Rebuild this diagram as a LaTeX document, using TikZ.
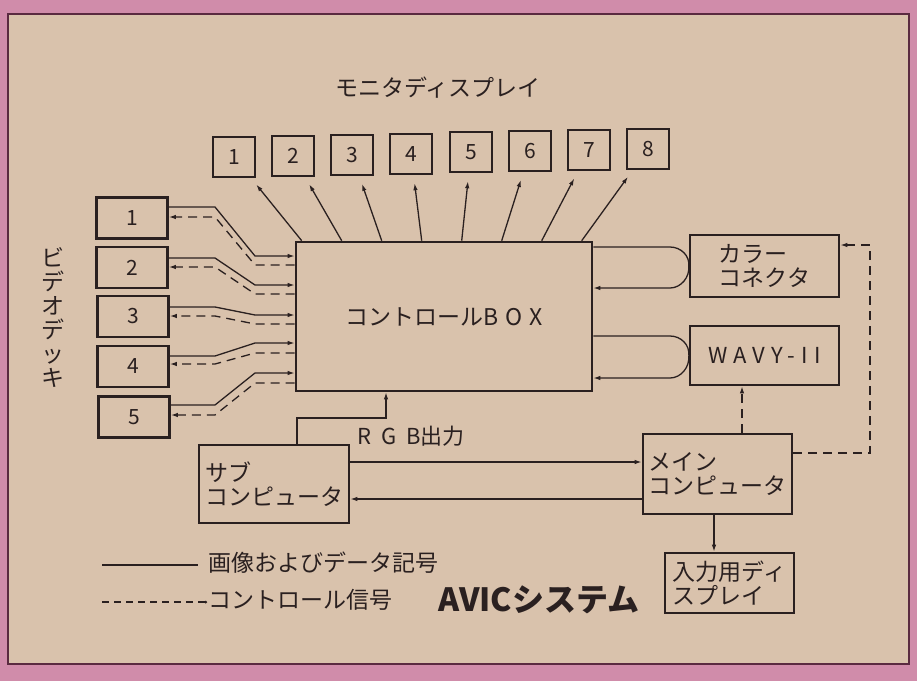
\documentclass[tikz,border=0pt]{standalone}
\usepackage{fontspec}
\setmainfont{Noto Sans CJK JP}
\usetikzlibrary{arrows.meta}
\definecolor{ink}{HTML}{2A2020}
\definecolor{paper}{HTML}{D9C2AC}
\definecolor{rim}{HTML}{D08CAA}
\definecolor{rimline}{HTML}{5A2A40}
\newcommand{\spread}[2]{{\addfontfeatures{LetterSpace=#1}#2}}
\begin{document}
\begin{tikzpicture}[
	x=1pt,y=-1pt,
	>={Latex[length=7pt,width=4.5pt]},
	box/.style={draw=ink,line width=2.6pt,fill=paper,inner sep=0pt,text=ink},
	txt/.style={font=\fontsize{23}{24.5}\selectfont,text=ink,inner sep=1pt},
	num/.style={font=\fontsize{21}{22}\selectfont},
	mon/.style={box,num,minimum width=42pt,minimum height=40pt},
	deck/.style={box,num,minimum width=71pt,minimum height=41pt},
	unit/.style={box,txt,align=left},
	sig/.style={draw=ink,line width=1.3pt},
	ctl/.style={draw=ink,line width=1.3pt,dash pattern=on 9pt off 6pt}
	]
	% paper and frame
	\fill[rim] (0,0) rectangle (917,681);
	\path[draw=rimline,line width=1.4pt,fill=paper] (8,14) rectangle (909,664);

	\node[txt] (montitle) at (438,88) {モニタディスプレイ};
	\node[mon] (m1) at (234,157) {1};
	\node[mon] (m2) at (293,156) {2};
	\node[mon] (m3) at (352,155) {3};
	\node[mon] (m4) at (411,154) {4};
	\node[mon] (m5) at (471,152) {5};
	\node[mon] (m6) at (530,151) {6};
	\node[mon] (m7) at (589,150) {7};
	\node[mon] (m8) at (648,149) {8};

	\node[box,txt,minimum width=296pt,minimum height=149pt] (ctrl) at (444,316.5) {コントロール\spread{30}{BOX}};

	\node[txt,align=center,font=\fontsize{23}{24}\selectfont] (decktitle) at (53,318) {ビ\\デ\\オ\\デ\\ッ\\キ};
	\node[deck] (v1) at (132,218) {1};
	\node[deck] (v2) at (132,267.5) {2};
	\node[deck] (v3) at (133,316.5) {3};
	\node[deck] (v4) at (133,366.5) {4};
	\node[deck] (v5) at (134,417) {5};

	\node[unit,minimum width=149pt,minimum height=62pt] (color) at (764.5,266) {カラー\\コネクタ};
	\node[box,txt,font=\fontsize{22}{24}\selectfont,minimum width=149pt,minimum height=59pt] (wavy) at (764.5,355.5) {\spread{28}{WAVY-II}};
	\node[unit,minimum width=150pt,minimum height=78pt] (sub) at (274,484) {サブ\\コンピュータ};
	\node[unit,minimum width=149pt,minimum height=80pt] (main) at (717.5,474) {メイン\\コンピュータ};
	\node[unit,minimum width=129pt,minimum height=60pt] (disp) at (729.5,583) {入力用ディ\\スプレイ};
	\node[txt,font=\fontsize{22}{24}\selectfont] (rgb) at (411,436) {\spread{45}{RGB}出力};

	% monitors
	\path[draw,sig,->,shorten >=8pt] ([xshift=7pt]ctrl.north west) -- (m1);
	\path[draw,sig,->,shorten >=8pt] ([xshift=47pt]ctrl.north west) -- (m2);
	\path[draw,sig,->,shorten >=8pt] ([xshift=87pt]ctrl.north west) -- (m3);
	\path[draw,sig,->,shorten >=8pt] ([xshift=127pt]ctrl.north west) -- (m4);
	\path[draw,sig,->,shorten >=8pt] ([xshift=167pt]ctrl.north west) -- (m5);
	\path[draw,sig,->,shorten >=8pt] ([xshift=207pt]ctrl.north west) -- (m6);
	\path[draw,sig,->,shorten >=8pt] ([xshift=247pt]ctrl.north west) -- (m7);
	\path[draw,sig,->,shorten >=8pt] ([xshift=287pt]ctrl.north west) -- (m8);

	% video decks
	\path[draw,sig,->] (v1.east |- 0,207) -- (215,207) -- (255,256) -- (ctrl.west |- 0,256);
	\path[draw,ctl,->] (ctrl.west |- 0,265) -- (255,265) -- (215,217) -- (v1.east |- 0,217);
	\path[draw,sig,->] (v2.east |- 0,258) -- (215,258) -- (255,285) -- (ctrl.west |- 0,285);
	\path[draw,ctl,->] (ctrl.west |- 0,294) -- (255,294) -- (215,267) -- (v2.east |- 0,267);
	\path[draw,sig,->] (v3.east |- 0,307) -- (215,307) -- (255,315) -- (ctrl.west |- 0,315);
	\path[draw,ctl,->] (ctrl.west |- 0,324) -- (255,324) -- (215,316) -- (v3.east |- 0,316);
	\path[draw,sig,->] (v4.east |- 0,356) -- (215,356) -- (255,343) -- (ctrl.west |- 0,343);
	\path[draw,ctl,->] (ctrl.west |- 0,353) -- (255,353) -- (215,364) -- (v4.east |- 0,364);
	\path[draw,sig,->] (v5.east |- 0,405) -- (215,405) -- (255,373) -- (ctrl.west |- 0,373);
	\path[draw,ctl,->] (ctrl.west |- 0,383) -- (255,383) -- (215,415) -- (v5.east |- 0,415);

	% color connector and WAVY-II loops
	\path[draw,sig] (ctrl.east |- 0,247) -- (670,247) .. controls (681,247) and (690,256) .. (color.west);
	\path[draw,sig,->] (color.west) .. controls (690,277) and (681,288) .. (670,288) -- (ctrl.east |- 0,288);
	\path[draw,sig] (ctrl.east |- 0,336) -- (670,336) .. controls (681,336) and (690,345) .. (wavy.west);
	\path[draw,sig,->] (wavy.west) .. controls (690,367) and (681,378) .. (670,378) -- (ctrl.east |- 0,378);

	% computers
	\path[draw,sig,->] (sub.north -| 297,0) -- (297,418) -- (386,418) -- (ctrl.south -| 386,0);
	\path[draw,sig,->] (sub.east |- 0,462) -- (main.west |- 0,462);
	\path[draw,sig,->] (main.west |- 0,499) -- (sub.east |- 0,499);
	\path[draw,sig,->] (main.south -| 714,0) -- (disp.north -| 714,0);
	\path[draw,ctl,->] (main.north -| 742,0) -- (wavy.south -| 742,0);
	\path[draw,ctl,->] (main.east |- 0,453) -- (870,453) -- (870,245) -- (color.east |- 0,245);

	% legend
	\coordinate (lgsig) at (102,565);
	\coordinate (lgctl) at (102,602);
	\node[txt,anchor=west] (legsig) at (207,563) {画像およびデータ記号};
	\node[txt,anchor=west] (legctl) at (207,600) {コントロール信号};
	\path[draw,sig] (lgsig) -- (lgsig -| 198,0);
	\path[draw,ctl,dash pattern=on 7pt off 5pt,-{Circle[length=2.5pt]}] (lgctl) -- (lgctl -| legctl.west);

	\node[text=ink,font=\fontsize{32}{34}\selectfont\bfseries] (avic) at (539,600) {AVICシステム};
\end{tikzpicture}
\end{document}
